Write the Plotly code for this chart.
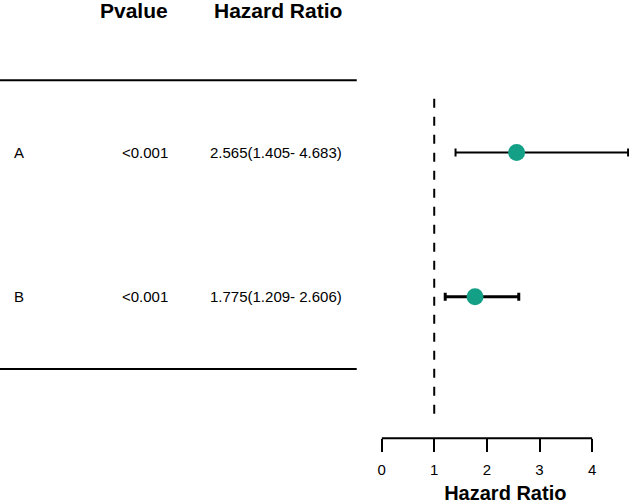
import plotly.graph_objects as go

labels = ["A", "B"]
pvalues = ["<0.001", "<0.001"]
hr = [2.565, 1.775]
hr_low = [1.405, 1.209]
hr_high = [4.683, 2.606]
hr_text = ["2.565(1.405- 4.683)", "1.775(1.209- 2.606)"]
row_pos = [2, 1]
line_w = [2, 3]
ticks = [0, 1, 2, 3, 4]

W, H = 629, 504
FONT = "Liberation Sans, Arial, sans-serif"
teal = "#14a086"

fig = go.Figure()
for i in range(len(labels)):
    fig.add_trace(go.Scatter(
        x=[hr[i]], y=[row_pos[i]], mode="markers",
        marker=dict(size=17, color=teal, line=dict(width=0)),
        error_x=dict(type="data", symmetric=False,
                     array=[hr_high[i] - hr[i]], arrayminus=[hr[i] - hr_low[i]],
                     color="black", thickness=line_w[i], width=4),
        showlegend=False, hoverinfo="skip", cliponaxis=False))

y_bottom = 64 / H
fig.update_layout(
    width=W, height=H, margin=dict(l=0, r=0, t=0, b=0),
    paper_bgcolor="white", plot_bgcolor="white",
    font=dict(family=FONT, color="black"),
    xaxis=dict(domain=[380 / W, 1], range=[0, 4.70], showgrid=False, zeroline=False,
               showline=False, tickvals=ticks, ticktext=[str(t) for t in ticks],
               ticks="outside", ticklen=13, tickwidth=2, tickcolor="black",
               ticklabelstandoff=5,
               tickfont=dict(size=15, family=FONT),
               title=dict(text="<b>Hazard Ratio</b>", font=dict(size=20, family=FONT), standoff=12)),
    yaxis=dict(domain=[y_bottom, 1], range=[0.021, 3.055], visible=False),
)

# axis line from 0 to 4
fig.add_shape(type="line", xref="x", yref="paper", x0=ticks[0], x1=ticks[-1],
              y0=y_bottom, y1=y_bottom, line=dict(color="black", width=2))
# reference line at HR = 1
fig.add_shape(type="line", xref="x", yref="y", x0=1, x1=1, y0=0.19, y1=2.4,
              line=dict(color="black", width=2, dash="dash"), layer="below")
# table lines
for yv in (2.5, 0.5):
    fig.add_shape(type="line", xref="paper", yref="y", x0=-0.01, x1=355 / W, y0=yv, y1=yv,
                  line=dict(color="black", width=2))

# headers
fig.add_annotation(x=167 / W, y=2.985, xref="paper", yref="y", text="<b>Pvalue</b>",
                   showarrow=False, xanchor="right", yanchor="middle", font=dict(size=21))
fig.add_annotation(x=342 / W, y=2.985, xref="paper", yref="y", text="<b>Hazard Ratio</b>",
                   showarrow=False, xanchor="right", yanchor="middle", font=dict(size=21))

for i in range(len(labels)):
    fig.add_annotation(x=8 / W, y=row_pos[i], xref="paper", yref="y", text=labels[i],
                       showarrow=False, xanchor="left", yanchor="middle", font=dict(size=15))
    fig.add_annotation(x=167 / W, y=row_pos[i], xref="paper", yref="y", text=pvalues[i],
                       showarrow=False, xanchor="right", yanchor="middle", font=dict(size=15))
    fig.add_annotation(x=342 / W, y=row_pos[i], xref="paper", yref="y", text=hr_text[i],
                       showarrow=False, xanchor="right", yanchor="middle", font=dict(size=15))

fig.write_html("out.html", config={"displayModeBar": False},
               post_script="document.body.style.margin='0';")
